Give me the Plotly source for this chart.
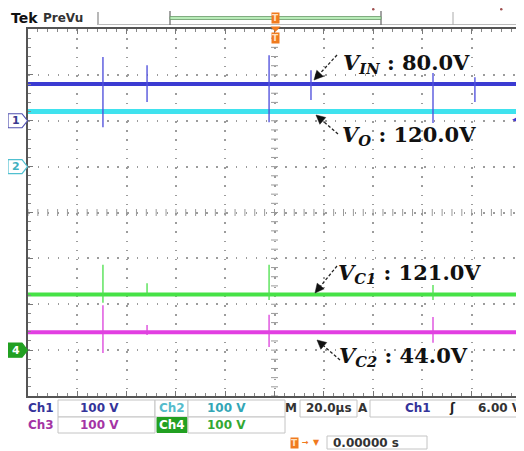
import plotly.graph_objects as go

# ---------------- data ----------------
time_range_us = [-100.0, 100.0]          # 10 div x 20 us/div
timebase_label = "20.0µs"
volts_per_div = [100, 100, 100, 100]
channel_names = ["Ch1", "Ch2", "Ch3", "Ch4"]
signal_subs = ["IN", "O", "C2", "C1"]
dc_levels_V = [80.0, 120.0, 44.0, 121.0]
ground_div = [2.0, 1.0, -3.05, -3.0]
trace_colors = ["#3b3bd2", "#3fe2ee", "#e23fe2", "#46e246"]
spike_colors = ["rgba(80,80,220,0.85)", "rgba(60,220,235,0.8)",
                "rgba(220,70,220,0.85)", "rgba(80,225,80,0.85)"]
trace_widths = [4, 5, 4, 4]

ch1_spike_t_us = [-69.6, -51.7, -2.2, 14.8, 64.3, 81.3]
ch1_spike_hi_V = [139, 121, 143, 110, 104, 95]
ch1_spike_lo_V = [-14, 41, -3, 45, -5, 41]
ch3_spike_t_us = [-69.6, -51.7, -2.2, 64.3]
ch3_spike_hi_V = [103, 60, 82, 77]
ch3_spike_lo_V = [-1, 38, 12, 21]
ch4_spike_t_us = [-69.6, -51.7, -2.2, 64.3]
ch4_spike_hi_V = [186, 146, 186, 142]
ch4_spike_lo_V = [103, 118, 109, 109]

trigger_channel = "Ch1"
trigger_level_V = 6.0
trigger_pos_label = "0.00000 s"

# ---------------- layout geometry (window pixels) ----------------
PAGE_OFF = 8                               # default body margin of the html page
W, H = 524, 451
X0, X1, Y0, Y1 = 28, 521, 29, 396          # plot area in window pixels

def px2t(px):
    return (px - X0) / (X1 - X0) * 200 - 100
def py2v(py):
    return ((Y0 + Y1) / 2 - py) * 800 / (Y1 - Y0)
def xp(px):
    return (px - X0) / (X1 - X0)
def yp(py):
    return (Y1 - py) / (Y1 - Y0)

def screen(ch, v):
    return ground_div[ch] * volts_per_div[ch] + v * 100 / volts_per_div[ch]

fig = go.Figure()

# graticule centre ticks
fig.add_trace(go.Scatter(x=[0] * 41, y=list(range(-400, 401, 20)), mode="markers",
                         marker=dict(symbol="line-ew", size=5, line=dict(width=1, color="#9a9a9a")),
                         hoverinfo="skip", showlegend=False))
fig.add_trace(go.Scatter(x=list(range(-100, 101, 4)), y=[0] * 51, mode="markers",
                         marker=dict(symbol="line-ns", size=5, line=dict(width=1, color="#9a9a9a")),
                         hoverinfo="skip", showlegend=False))

# baselines
for ch in [0, 1, 3, 2]:
    lvl = screen(ch, dc_levels_V[ch])
    fig.add_trace(go.Scatter(x=time_range_us, y=[lvl, lvl], mode="lines",
                             line=dict(color=trace_colors[ch], width=trace_widths[ch]),
                             hoverinfo="skip", showlegend=False))

# spikes
def spike_trace(ch, ts, his, los):
    xs, ys = [], []
    for t, h, l in zip(ts, his, los):
        xs += [t, t, None]
        ys += [screen(ch, h), screen(ch, l), None]
    fig.add_trace(go.Scatter(x=xs, y=ys, mode="lines",
                             line=dict(color=spike_colors[ch], width=1.6),
                             hoverinfo="skip", showlegend=False))

spike_trace(3, ch4_spike_t_us, ch4_spike_hi_V, ch4_spike_lo_V)
spike_trace(2, ch3_spike_t_us, ch3_spike_hi_V, ch3_spike_lo_V)
spike_trace(0, ch1_spike_t_us, ch1_spike_hi_V, ch1_spike_lo_V)

annotations = []
shapes = []

def ptext(x, y, s, color, size=12, anchor="center", family="DejaVu Sans", bold=True, **kw):
    annotations.append(dict(x=xp(x), y=yp(y), xref="paper", yref="paper", xanchor=anchor,
                            yanchor="middle", text=("<b>%s</b>" % s) if bold else s,
                            showarrow=False, font=dict(family=family, size=size, color=color), **kw))

# signal labels with dashed arrows
label_pos = [(341, 64), (340, 135), (337, 356), (336, 273)]
arrow_tail = [(337, 55), (338, 134), (340, 360), (337, 266)]
arrow_head = [(314, 80), (316, 115), (317, 340), (315, 293)]
for ch in range(4):
    lx, ly = label_pos[ch]
    ptext(lx, ly, "<i>V</i><sub><i>%s</i></sub> : %.1fV" % (signal_subs[ch], dc_levels_V[ch]),
          "#111", size=21, anchor="left", family="DejaVu Serif")
    (tx, ty), (hx, hy) = arrow_tail[ch], arrow_head[ch]
    dx, dy = tx - hx, ty - hy
    n = (dx * dx + dy * dy) ** 0.5
    ux, uy = dx / n, dy / n
    bx, by = hx + ux * 9, hy + uy * 9
    shapes.append(dict(type="line", xref="paper", yref="paper", x0=xp(tx), y0=yp(ty),
                       x1=xp(bx), y1=yp(by), line=dict(color="#222", width=1.3, dash="3px,2px")))
    pxn, pyn = -uy, ux
    path = "M %f %f L %f %f L %f %f Z" % (
        xp(hx), yp(hy), xp(bx + pxn * 4.5), yp(by + pyn * 4.5), xp(bx - pxn * 4.5), yp(by - pyn * 4.5))
    shapes.append(dict(type="path", xref="paper", yref="paper", path=path,
                       fillcolor="#111", line=dict(color="#111", width=0.5)))

# channel ground markers on left
markers = [(0, "1", "#5050b0", "white", "#3a3a90"),
           (1, "2", "#50c0d0", "white", "#40b0c0"),
           (3, "4", "#22a022", "#22a022", "white")]
for ch, t, lc, fc, tc in markers:
    yc = Y0 + (Y1 - Y0) / 2 - ground_div[ch] * (Y1 - Y0) / 8
    path = "M %f %f L %f %f L %f %f L %f %f L %f %f Z" % (
        xp(8), yp(yc - 7), xp(22), yp(yc - 7), xp(27.5), yp(yc), xp(22), yp(yc + 7), xp(8), yp(yc + 7))
    shapes.append(dict(type="path", xref="paper", yref="paper", path=path,
                       fillcolor=fc, line=dict(color=lc, width=1.2)))
    ptext(15.5, yc, t, tc, size=11)

# trigger level marker on right
annotations.append(dict(x=100, y=screen(0, trigger_level_V), xref="x", yref="y", xanchor="right",
                        yanchor="middle", text="◀", showarrow=False, font=dict(size=9, color="#3b3bd2")))

# top bar
ptext(9, 18, "Tek", "#111", size=14, anchor="left")
ptext(41, 18, "PreVu", "#333", size=12, anchor="left")
shapes += [
    dict(type="line", xref="paper", yref="paper", x0=xp(98), x1=xp(98), y0=yp(12), y1=yp(25),
         line=dict(color="#888", width=1.2)),
    dict(type="line", xref="paper", yref="paper", x0=xp(98), x1=xp(524), y0=yp(24.5), y1=yp(24.5),
         line=dict(color="#bbb", width=1)),
    dict(type="line", xref="paper", yref="paper", x0=xp(170), x1=xp(170), y0=yp(11), y1=yp(25),
         line=dict(color="#666", width=1.2)),
    dict(type="line", xref="paper", yref="paper", x0=xp(381), x1=xp(381), y0=yp(11), y1=yp(25),
         line=dict(color="#666", width=1.2)),
    dict(type="rect", xref="paper", yref="paper", x0=xp(170), x1=xp(381), y0=yp(19.5), y1=yp(16.5),
         fillcolor="#b8ecb8", line=dict(color="#6a9a6a", width=0.8)),
    dict(type="line", xref="paper", yref="paper", x0=xp(453), x1=xp(453), y0=yp(12), y1=yp(25),
         line=dict(color="#aaa", width=1)),
    dict(type="circle", xref="paper", yref="paper", x0=xp(372), x1=xp(374.5), y0=yp(8), y1=yp(10.5),
         fillcolor="#a05050", line=dict(width=0)),
    dict(type="circle", xref="paper", yref="paper", x0=xp(500), x1=xp(502.5), y0=yp(8), y1=yp(10.5),
         fillcolor="#a05050", line=dict(width=0)),
]
for (cx, cy) in [(275.5, 17.5), (275.5, 38)]:
    ptext(cx, cy, "T", "#ffe0c0", size=9, bgcolor="#f07a1e", borderpad=0)
shapes.append(dict(type="path", xref="paper", yref="paper",
                   path="M %f %f L %f %f L %f %f Z" % (xp(270.5), yp(26.5), xp(280.5), yp(26.5), xp(275.5), yp(32)),
                   fillcolor="#f07a1e", line=dict(width=0)))

# bottom status panel
def box(x0, x1, y0, y1, fill="white", line="#c4c4c4"):
    shapes.append(dict(type="rect", xref="paper", yref="paper", x0=xp(x0), x1=xp(x1),
                       y0=yp(y1), y1=yp(y0), fillcolor=fill, line=dict(color=line, width=1), layer="below"))

box(58, 155, 400, 417); box(155, 188, 400, 417); box(188, 285, 400, 417)
box(300, 357, 400, 417); box(370, 524, 400, 417)
box(58, 155, 417, 433); box(157, 187, 417.5, 432.5, fill="#22a022", line="#22a022"); box(188, 285, 417, 433)
box(327, 427, 436, 449)

vpd_txt = ["%d V" % v for v in volts_per_div]
ptext(41, 408.5, channel_names[0], "#34349a"); ptext(99, 408.5, vpd_txt[0], "#34349a")
ptext(171.5, 408.5, channel_names[1], "#55bccc"); ptext(226, 408.5, vpd_txt[1], "#33a6b6")
ptext(291, 408.5, "M", "#333"); ptext(328.5, 408.5, timebase_label, "#333")
ptext(363, 408.5, "A", "#333"); ptext(418, 408.5, trigger_channel, "#34349a")
ptext(452, 408.5, "ʃ", "#222"); ptext(500, 408.5, "%.2f V" % trigger_level_V, "#333")
ptext(41, 425, channel_names[2], "#a434a4"); ptext(99, 425, vpd_txt[2], "#a434a4")
ptext(172, 425, channel_names[3], "white"); ptext(226, 425, vpd_txt[3], "#33a833")
ptext(294.5, 442.5, "T", "#ffe0c0", size=9, bgcolor="#f07a1e", borderpad=0)
ptext(305, 442.5, "→", "#f07a1e", size=8); ptext(316, 442, "▼", "#f07a1e", size=8)
ptext(331, 442.5, trigger_pos_label, "#333", anchor="left")

fig.update_layout(
    width=W - PAGE_OFF, height=H - PAGE_OFF,
    margin=dict(l=X0 - PAGE_OFF, r=W - X1, t=Y0 - PAGE_OFF, b=H - Y1, autoexpand=False),
    paper_bgcolor="white", plot_bgcolor="white",
    showlegend=False,
    shapes=shapes, annotations=annotations,
)
fig.update_xaxes(range=time_range_us, dtick=20, showticklabels=False, zeroline=False,
                 showgrid=True, gridcolor="#9c9c9c", gridwidth=1.5, griddash="1.5px,7.7px",
                 showline=True, linecolor="#555", linewidth=2, mirror="ticks",
                 ticks="inside", ticklen=5, tickcolor="#777", tickwidth=1,
                 minor=dict(dtick=4, ticks="inside", ticklen=3, tickcolor="#888", showgrid=False))
fig.update_yaxes(range=[-400, 400], dtick=100, showticklabels=False, zeroline=False,
                 showgrid=True, gridcolor="#9c9c9c", gridwidth=1.5, griddash="1.5px,8.4px",
                 showline=True, linecolor="#555", linewidth=2, mirror="ticks",
                 ticks="inside", ticklen=5, tickcolor="#777", tickwidth=1,
                 minor=dict(dtick=20, ticks="inside", ticklen=3, tickcolor="#888", showgrid=False))

fig.write_html("out.html")
